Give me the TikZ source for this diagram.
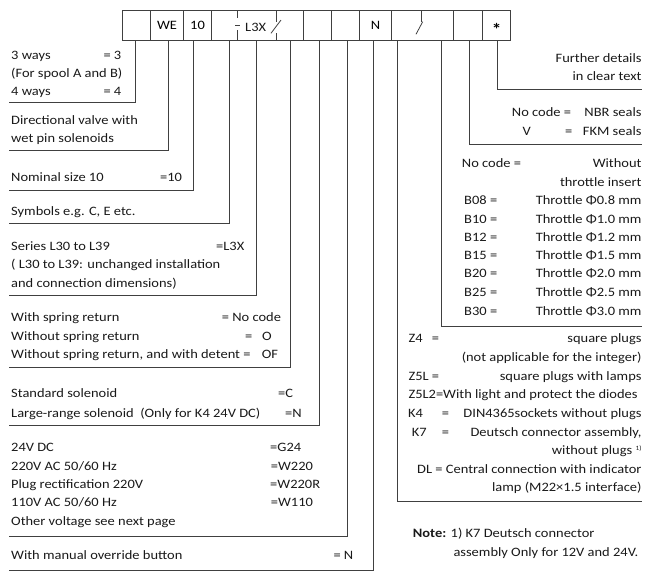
\documentclass[tikz,border=0pt]{standalone}
\usepackage{fontspec}
\setmainfont{Carlito}[FakeStretch=1.13]
\newcommand{\codefont}{\fontsize{12.8}{15}\selectfont}

\begin{document}
\begin{tikzpicture}[x=1pt, y=-1pt,
  cell/.style={draw=black!75, line width=0.8pt, minimum height=30pt, inner sep=0pt, font=\codefont},
  lead/.style={draw=black!75, line width=0.8pt},
  txt/.style={anchor=base west, inner sep=0pt, font=\codefont, text=black!90},
  rtxt/.style={anchor=base east, inner sep=0pt, font=\codefont, text=black!90}]
  \useasboundingbox (0,0) rectangle (650,582);

  % code boxes
  \node[cell, minimum width=28.4pt] (c1) at (136.5,25) {};
  \node[cell, minimum width=32.6pt] (c2) at (167,25) {WE};
  \node[cell, minimum width=28.4pt] (c3) at (197.5,25) {10};
  \node[cell, minimum width=91.6pt] (c4) at (257.5,25) {};
  \node[cell, minimum width=28.4pt] (c5) at (317.5,25) {};
  \node[cell, minimum width=27.6pt] (c6) at (345.5,25) {};
  \node[cell, minimum width=32.4pt] (c7) at (375.5,25) {N};
  \node[cell, minimum width=61.6pt] (c8) at (422.5,25) {};
  \node[cell, minimum width=29pt] (c9) at (467.8,25) {};
  \node[cell, minimum width=27.7pt] (c10) at (496.15,25) {};
  \node[inner sep=0pt, font=\fontsize{17}{17}\selectfont\bfseries] (star) at (496.7,29) {*};
  \node[txt] (ser) at (245,31.8) {L3X};
  \draw[lead] (237.5,10) -- (237.5,18);
  \draw[lead] (235,25) -- (240,25);
  \draw[lead] (237.5,30) -- (237.5,40);
  \draw[lead] (276,10) -- (276,21.7);
  \draw[lead] (271,33.3) -- (281,20);
  \draw[lead] (276,33.3) -- (276,40);
  \draw[lead] (421.7,10) -- (421.7,21.7);
  \draw[lead] (416,34.3) -- (422.7,21.7);

  % tap points below the boxes
  \coordinate (t1) at (135,40);
  \coordinate (t2) at (168.3,40);
  \coordinate (t3) at (193.3,40);
  \coordinate (t4) at (229,40);
  \coordinate (t5) at (256.7,40);
  \coordinate (t6) at (290,40);
  \coordinate (t7) at (319.3,40);
  \coordinate (t8) at (347.3,40);
  \coordinate (t9) at (373.3,40);
  \coordinate (t10) at (397.3,40);
  \coordinate (t11) at (441,40);
  \coordinate (t12) at (469,40);
  \coordinate (t13) at (497.7,40);
  \coordinate (e1) at (9.3,102.7);
  \coordinate (e2) at (9.3,150.7);
  \coordinate (e3) at (9.3,190);
  \coordinate (e4) at (9.3,223);
  \coordinate (e5) at (9.3,295.7);
  \coordinate (e6) at (9.3,367);
  \coordinate (e7) at (9.3,425.7);
  \coordinate (e8) at (9.3,536.7);
  \coordinate (e9) at (9.3,570);
  \coordinate (e10) at (641.7,501.7);
  \coordinate (e11) at (641.7,326.7);
  \coordinate (e12) at (641.7,144);
  \coordinate (e13) at (641.7,89.3);
  \draw[lead] (t1) |- (e1);
  \draw[lead] (t2) |- (e2);
  \draw[lead] (t3) |- (e3);
  \draw[lead] (t4) |- (e4);
  \draw[lead] (t5) |- (e5);
  \draw[lead] (t6) |- (e6);
  \draw[lead] (t7) |- (e7);
  \draw[lead] (t8) |- (e8);
  \draw[lead] (t9) |- (e9);
  \draw[lead] (t10) |- (e10);
  \draw[lead] (t11) |- (e11);
  \draw[lead] (t12) |- (e12);
  \draw[lead] (t13) |- (e13);

  % left column
  \node[txt] (w3) at (11,59.5) {3 ways};
  \node[txt] (w3c) at (103.3,59.5) {= 3};
  \node[txt] (sp) at (11,77.3) {(For spool A and B)};
  \node[txt] (w4) at (11,95.5) {4 ways};
  \node[txt] (w4c) at (103.3,95.5) {= 4};
  \node[txt] (dv1) at (11,124.5) {Directional valve with};
  \node[txt] (dv2) at (11,142.8) {wet pin solenoids};
  \node[txt] (ns) at (11,181.8) {Nominal size 10};
  \node[txt] (nsc) at (160,181.8) {=10};
  \node[txt] (sy) at (11,215.2) {Symbols e.g. C, E etc.};
  \node[txt] (se1) at (11,250.2) {Series L30 to L39};
  \node[txt] (sec) at (216,250.2) {=L3X};
  \node[txt] (se2) at (11,268.8) {( L30 to L39: unchanged installation};
  \node[txt] (se3) at (11,287.8) {and connection dimensions)};
  \node[txt] (sr1) at (11,321.8) {With spring return};
  \node[txt] (sr1c) at (221.7,321.8) {= No code};
  \node[txt] (sr2) at (11,340.5) {Without spring return};
  \node[txt] (sr2e) at (245,340.5) {=};
  \node[txt] (sr2c) at (262,340.5) {O};
  \node[txt] (sr3) at (11,358.8) {Without spring return, and with detent =};
  \node[txt] (sr3c) at (261.7,358.8) {OF};
  \node[txt] (so1) at (11,397.8) {Standard solenoid};
  \node[txt] (so1c) at (278,397.8) {=C};
  \node[txt] (so2) at (11,417.2) {Large-range solenoid\ \ (Only for K4 24V DC)};
  \node[txt] (so2c) at (285,417.2) {=N};
  \node[txt] (v1) at (11,451.8) {24V DC};
  \node[txt] (v1c) at (270,451.8) {=G24};
  \node[txt] (v2) at (11,470.2) {220V AC 50/60 Hz};
  \node[txt] (v2c) at (270.7,470.2) {=W220};
  \node[txt] (v3) at (11,488.5) {Plug rectification 220V};
  \node[txt] (v3c) at (270,488.5) {=W220R};
  \node[txt] (v4) at (11,506.8) {110V AC 50/60 Hz};
  \node[txt] (v4c) at (270.7,506.8) {=W110};
  \node[txt] (v5) at (11,525.2) {Other voltage see next page};
  \node[txt] (mo) at (11,559.5) {With manual override button};
  \node[txt] (moc) at (333.3,559.5) {= N};

  % right column
  \node[rtxt] (fd1) at (641.7,62.8) {Further details};
  \node[rtxt] (fd2) at (641.7,80.5) {in clear text};
  \node[txt] (sl1) at (511.7,116.2) {No code =};
  \node[rtxt] (sl1c) at (641.7,116.2) {NBR seals};
  \node[txt] (sl2) at (522.3,135.2) {V};
  \node[txt] (sl2e) at (565,135.2) {=};
  \node[rtxt] (sl2c) at (641.7,135.2) {FKM seals};
  \node[txt] (th0) at (461.7,167.2) {No code =};
  \node[rtxt] (th0c) at (641.7,167.2) {Without};
  \node[rtxt] (th0d) at (641.7,186.2) {throttle insert};
  \node[txt] (th1) at (464,204.5) {B08 =};
  \node[rtxt] (th1c) at (641.7,204.5) {Throttle Φ0.8 mm};
  \node[txt] (th2) at (464,223.5) {B10 =};
  \node[rtxt] (th2c) at (641.7,223.5) {Throttle Φ1.0 mm};
  \node[txt] (th3) at (464,241.2) {B12 =};
  \node[rtxt] (th3c) at (641.7,241.2) {Throttle Φ1.2 mm};
  \node[txt] (th4) at (464,259.5) {B15 =};
  \node[rtxt] (th4c) at (641.7,259.5) {Throttle Φ1.5 mm};
  \node[txt] (th5) at (464,277.8) {B20 =};
  \node[rtxt] (th5c) at (641.7,277.8) {Throttle Φ2.0 mm};
  \node[txt] (th6) at (464,296.8) {B25 =};
  \node[rtxt] (th6c) at (641.7,296.8) {Throttle Φ2.5 mm};
  \node[txt] (th7) at (464,315.2) {B30 =};
  \node[rtxt] (th7c) at (641.7,315.2) {Throttle Φ3.0 mm};
  \node[txt] (z4) at (408.3,342.8) {Z4};
  \node[txt] (z4e) at (431.7,342.8) {=};
  \node[rtxt] (z4c) at (641.7,342.8) {square plugs};
  \node[rtxt] (z4d) at (641.7,361.2) {(not applicable for the integer)};
  \node[txt] (z5) at (408.3,380.5) {Z5L =};
  \node[rtxt] (z5c) at (641.7,380.5) {square plugs with lamps};
  \node[txt] (z52) at (408.3,398.8) {Z5L2=With light and protect the diodes};
  \node[txt] (k4) at (408,417.8) {K4};
  \node[txt] (k4e) at (441.7,417.8) {=};
  \node[rtxt] (k4c) at (641.7,417.8) {DIN4365sockets without plugs};
  \node[txt] (k7) at (411.7,436.2) {K7};
  \node[txt] (k7e) at (441.7,436.2) {=};
  \node[rtxt] (k7c) at (641.7,436.2) {Deutsch connector assembly,};
  \node[rtxt] (k7d) at (641.7,454.5) {without plugs \raisebox{4pt}{\fontsize{6.5}{7}\selectfont 1)}};
  \node[rtxt] (dl1) at (641.7,473.5) {DL = Central connection with indicator};
  \node[rtxt] (dl2) at (641.7,491.8) {lamp (M22×1.5 interface)};
  \node[txt] (nt1) at (412.7,537.2) {\textbf{Note:} 1) K7 Deutsch connector};
  \node[txt] (nt2) at (453.3,556.8) {assembly Only for 12V and 24V.};
\end{tikzpicture}
\end{document}
